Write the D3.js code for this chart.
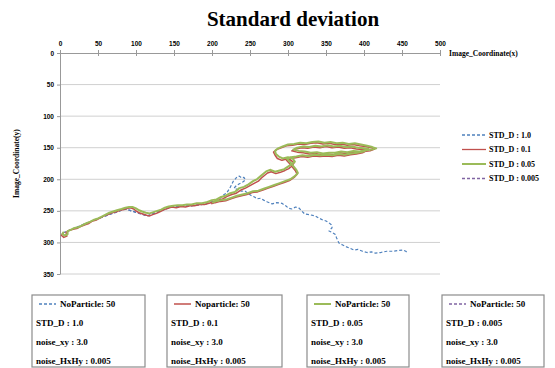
<!DOCTYPE html>
<html>
<head>
<meta charset="utf-8">
<script src="https://cdn.jsdelivr.net/npm/d3@7"></script>
<style>
  body { margin: 0; background: #fff; }
  svg { display: block; font-family: 'Liberation Serif', 'Times New Roman', serif; font-weight: bold; }
</style>
</head>
<body>
<svg id="chart" width="555" height="368"></svg>
<script>
// Tick values
const xTicks = [0, 50, 100, 150, 200, 250, 300, 350, 400, 450, 500];
const yTicks = [0, 50, 100, 150, 200, 250, 300, 350];

// Series names and settings
const seriesNames = ['STD_D : 1.0', 'STD_D : 0.1', 'STD_D : 0.05', 'STD_D : 0.005'];
const boxTitles = ['NoParticle: 50', 'Noparticle: 50', 'NoParticle: 50', 'NoParticle: 50'];
const noiseXY = 'noise_xy : 3.0';
const noiseH = 'noise_HxHy : 0.005';

// Trajectories [x, y] in image coordinates
const std1 = [
  [4, 285], [20, 277], [46, 264], [86, 247], [115, 258], [146, 244], [172, 242], [192, 239], [206, 233],
  [212, 229], [216, 224], [219, 222], [223, 215], [226, 208], [228, 203], [231, 199], [233, 196],
  [236, 195], [239, 198], [242, 197], [244, 201], [241, 204], [236, 207], [232, 210], [229, 214],
  [233, 216], [239, 219], [243, 218], [247, 222], [252, 226], [256, 228], [259, 231], [264, 230],
  [268, 233], [273, 236], [279, 239], [285, 237], [292, 238], [297, 242], [301, 246], [305, 247],
  [310, 244], [314, 245], [318, 250], [322, 255], [328, 256], [336, 258], [340, 261], [345, 264],
  [350, 266], [354, 269], [357, 272], [358, 277], [355, 280], [354, 282], [358, 284], [362, 287],
  [364, 293], [367, 301], [372, 304], [377, 307], [381, 309], [387, 312], [392, 311], [398, 314],
  [404, 316], [410, 315], [415, 317], [422, 316], [430, 314], [438, 314], [444, 313], [451, 312],
  [455, 314], [458, 317]
];
const std01 = [
  [4, 285], [2, 289], [5, 292], [9, 290], [8, 284], [12, 281], [17, 279], [22, 278], [27, 275],
  [33, 272], [38, 270], [43, 266], [47, 265], [53, 261], [58, 258], [63, 256], [68, 253], [73, 252],
  [79, 249], [84, 248], [89, 246], [93, 245], [97, 247], [100, 250], [104, 253], [109, 255],
  [114, 257], [118, 258], [122, 256], [127, 254], [132, 251], [137, 248], [142, 246], [147, 244],
  [153, 245], [159, 243], [165, 244], [171, 242], [177, 242], [184, 240], [190, 240], [196, 238],
  [202, 236], [208, 233], [214, 231], [220, 227], [226, 224], [232, 222], [238, 217], [244, 214],
  [250, 210], [256, 206], [261, 203], [265, 198], [269, 194], [273, 190], [278, 188], [284, 191],
  [290, 189], [296, 186], [301, 183], [305, 179], [308, 174], [304, 170], [298, 168], [292, 170],
  [286, 167], [283, 162], [281, 157], [285, 153], [291, 150], [298, 147], [306, 146], [314, 144],
  [322, 145], [330, 143], [338, 142], [346, 144], [354, 143], [362, 145], [370, 144], [378, 146],
  [386, 145], [394, 147], [402, 148], [410, 150], [414, 152], [408, 155], [400, 156], [392, 158],
  [384, 157], [376, 159], [368, 158], [360, 161], [352, 160], [344, 161], [336, 159], [328, 160],
  [320, 158], [312, 157], [305, 155], [310, 152], [318, 150], [326, 151], [334, 149], [342, 150],
  [350, 148], [358, 150], [366, 149], [374, 151], [382, 150], [390, 152], [398, 153], [405, 154],
  [398, 158], [390, 160], [382, 161], [374, 163], [366, 162], [358, 164], [350, 163], [342, 164],
  [334, 163], [326, 165], [318, 164], [310, 166], [303, 167], [298, 170], [302, 175], [306, 181],
  [310, 187], [312, 192], [308, 197], [302, 202], [295, 205], [288, 208], [281, 211], [274, 214],
  [267, 217], [260, 220], [253, 221], [246, 224], [239, 226], [232, 228], [225, 231], [218, 234],
  [211, 235], [204, 237], [199, 239]
];
const std005 = [
  [5, 283], [3, 287], [6, 289], [10, 287], [10, 282], [14, 280], [19, 277], [24, 276], [29, 273],
  [34, 270], [40, 267], [45, 264], [50, 262], [55, 259], [60, 256], [65, 253], [70, 251], [75, 249],
  [81, 247], [86, 245], [91, 244], [96, 244], [100, 246], [104, 249], [108, 251], [113, 253],
  [118, 254], [123, 252], [128, 250], [133, 248], [138, 245], [143, 243], [149, 242], [155, 241],
  [161, 241], [167, 240], [173, 240], [180, 238], [187, 238], [194, 236], [200, 233], [206, 232],
  [212, 228], [218, 226], [224, 222], [230, 220], [236, 214], [242, 212], [248, 208], [254, 203],
  [259, 200], [264, 195], [268, 191], [272, 187], [277, 185], [283, 188], [289, 186], [295, 184],
  [300, 180], [305, 176], [309, 172], [306, 167], [300, 165], [293, 167], [288, 164], [284, 160],
  [283, 155], [287, 151], [293, 148], [300, 145], [308, 144], [316, 142], [324, 143], [332, 141],
  [340, 140], [348, 142], [356, 141], [364, 143], [372, 142], [380, 144], [388, 143], [396, 145],
  [404, 147], [411, 149], [416, 151], [410, 153], [402, 154], [394, 156], [386, 155], [378, 157],
  [370, 156], [362, 158], [354, 158], [346, 159], [338, 157], [330, 158], [322, 156], [314, 155],
  [307, 153], [312, 150], [320, 148], [328, 149], [336, 147], [344, 148], [352, 146], [360, 148],
  [368, 147], [376, 149], [384, 148], [392, 150], [400, 151], [406, 152], [399, 156], [391, 158],
  [383, 159], [375, 161], [367, 160], [359, 162], [351, 161], [343, 162], [335, 161], [327, 163],
  [319, 162], [311, 164], [304, 165], [299, 168], [303, 173], [307, 179], [311, 185], [313, 190],
  [309, 195], [303, 200], [296, 203], [289, 206], [282, 209], [275, 212], [268, 215], [261, 218],
  [254, 219], [247, 222], [240, 224], [233, 226], [226, 229], [219, 232], [212, 233], [205, 235],
  [200, 237]
];
const std0005 = [
  [4, 285], [20, 277], [46, 264], [86, 247], [115, 258], [146, 244], [172, 242], [192, 239],
  [206, 233], [212, 235], [218, 231]
];

const colors = ['#4f81bd', '#c0504d', '#9bbb59', '#8064a2'];
const dashes = ['3,2', null, null, '3,2'];
const widths = [1.2, 1.5, 2, 1.2];
const gridColor = '#d0d0d0';

const svg = d3.select('#chart');

const x = d3.scaleLinear().domain([0, 500]).range([60, 440]);
const y = d3.scaleLinear().domain([0, 350]).range([53, 274]);

// Title
svg.append('text')
  .attr('x', 293).attr('y', 26)
  .attr('text-anchor', 'middle')
  .attr('font-size', 21)
  .text('Standard deviation');

// Horizontal grid
svg.append('g')
  .selectAll('line')
  .data(yTicks.slice(1))
  .join('line')
  .attr('x1', x(0)).attr('x2', x(500))
  .attr('y1', (d) => y(d)).attr('y2', (d) => y(d))
  .attr('stroke', gridColor);

// X axis (top)
const xAxis = svg.append('g')
  .attr('transform', `translate(0,${y(0)})`)
  .call(d3.axisTop(x).tickValues(xTicks).tickSize(3).tickSizeOuter(0));
xAxis.selectAll('.tick line').attr('y2', 3).attr('y1', -3);
xAxis.selectAll('text').attr('font-size', 6.5).attr('font-family', null).attr('dy', -1);

svg.append('text')
  .attr('x', 449).attr('y', y(0) + 3)
  .attr('font-size', 7.5)
  .text('Image_Coordinate(x)');

// Y axis
const yAxis = svg.append('g')
  .attr('transform', `translate(${x(0)},0)`)
  .call(d3.axisLeft(y).tickValues(yTicks).tickSize(3).tickSizeOuter(0));
yAxis.selectAll('text').attr('font-size', 6.5).attr('font-family', null).attr('x', -6);

svg.append('text')
  .attr('transform', `translate(19,${(y(0) + y(350)) / 2}) rotate(-90)`)
  .attr('text-anchor', 'middle')
  .attr('font-size', 7.5)
  .text('Image_Coordinate(y)');

svg.selectAll('.domain').attr('stroke', '#999');
svg.selectAll('.tick line').attr('stroke', '#999');

// Trajectories: purple underneath, then blue, red, green on top
const line = d3.line().x((d) => x(d[0])).y((d) => y(d[1]));
const series = [std0005, std1, std01, std005];
const order = [3, 0, 1, 2];
svg.append('g')
  .selectAll('path')
  .data(series)
  .join('path')
  .attr('d', line)
  .attr('fill', 'none')
  .attr('stroke', (d, i) => colors[order[i]])
  .attr('stroke-width', (d, i) => widths[order[i]])
  .attr('stroke-dasharray', (d, i) => dashes[order[i]])
  .attr('stroke-linejoin', 'round');

// Right legend
const legend = svg.append('g')
  .selectAll('g')
  .data(seriesNames)
  .join('g')
  .attr('transform', (d, i) => `translate(462,${135 + i * 14.5})`);
legend.append('line')
  .attr('x1', 0).attr('x2', 24)
  .attr('stroke', (d, i) => colors[i])
  .attr('stroke-width', (d, i) => (i === 2 ? 2 : 1.3))
  .attr('stroke-dasharray', (d, i) => dashes[i]);
legend.append('text')
  .attr('x', 27).attr('y', 2.5)
  .attr('font-size', 8)
  .text((d) => d);

// Info boxes below
const boxLeft = [32, 167, 307, 442];
const boxWidth = [113, 115, 102, 102];
const boxes = svg.append('g')
  .selectAll('g')
  .data(seriesNames)
  .join('g')
  .attr('transform', (d, i) => `translate(${boxLeft[i]},295)`);
boxes.append('rect')
  .attr('width', (d, i) => boxWidth[i]).attr('height', 72)
  .attr('fill', '#fff')
  .attr('stroke', '#8c8c8c')
  .attr('stroke-width', 1.2);
boxes.append('line')
  .attr('x1', 7).attr('x2', 24).attr('y1', 9).attr('y2', 9)
  .attr('stroke', (d, i) => colors[i])
  .attr('stroke-width', (d, i) => (i === 2 ? 2 : 1.5))
  .attr('stroke-dasharray', (d, i) => dashes[i]);
boxes.append('text')
  .attr('x', 28).attr('y', 12)
  .attr('font-size', 9)
  .text((d, i) => boxTitles[i]);
boxes.append('text')
  .attr('x', 4).attr('y', 31)
  .attr('font-size', 9)
  .text((d) => d);
boxes.append('text')
  .attr('x', 4).attr('y', 50)
  .attr('font-size', 9)
  .text(noiseXY);
boxes.append('text')
  .attr('x', 4).attr('y', 69)
  .attr('font-size', 9)
  .text(noiseH);
</script>
</body>
</html>
